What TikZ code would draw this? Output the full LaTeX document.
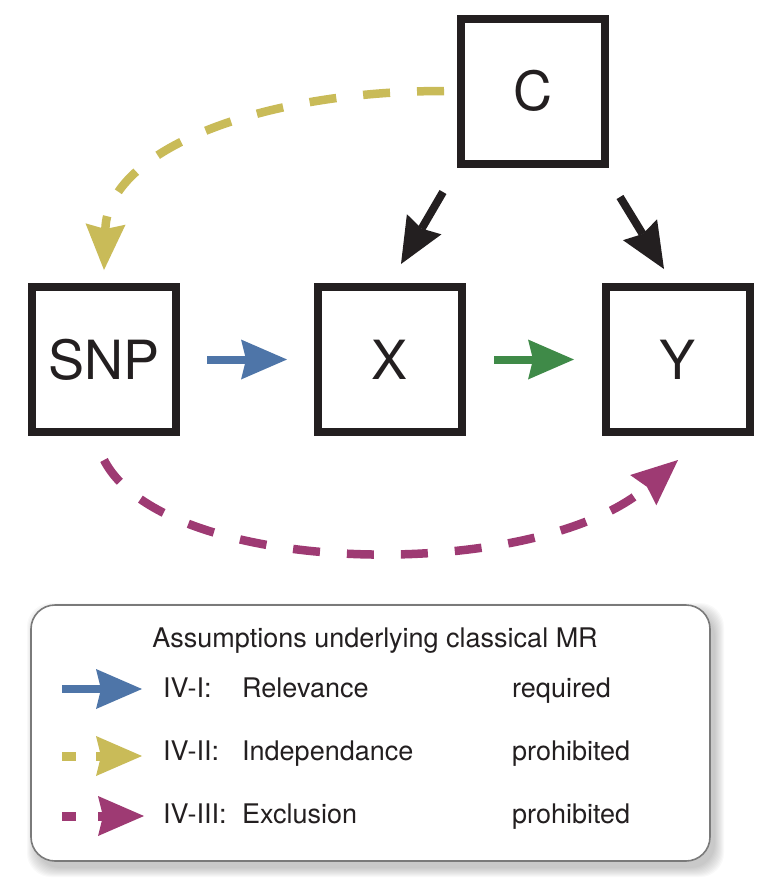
\documentclass[tikz,border=0pt]{standalone}
\usepackage{fontspec}
\setmainfont{TeX Gyre Heros}
\usetikzlibrary{arrows.meta}
\definecolor{boxblack}{HTML}{231F20}
\definecolor{relblue}{HTML}{4E75A8}
\definecolor{effgreen}{HTML}{3F8A48}
\definecolor{indyellow}{HTML}{C9BB58}
\definecolor{excmag}{HTML}{9E3A73}
\definecolor{legborder}{HTML}{7A7A7A}
\begin{document}
\begin{tikzpicture}[x=1pt,y=-1pt,
  varbox/.style={draw=boxblack, line width=8pt, minimum width=144pt, minimum height=145pt,
    inner sep=0pt, text=boxblack, font=\fontsize{54}{60}\selectfont},
  headtip/.style={-{Stealth[length=46pt,width=40pt,inset=5pt,line width=0pt]}},
  solidarrow/.style={headtip, line width=8pt},
  dasharrow/.style={headtip, line width=8.5pt, dash pattern=on 27pt off 27pt},
  legtext/.style={anchor=base west, inner sep=0pt, text=boxblack, font=\fontsize{27}{31}\selectfont},
  legbox/.style={draw=legborder, line width=1.6pt, fill=white, rounded corners=24pt}
]
\useasboundingbox (0,0) rectangle (768,884);

% variable boxes
\node[varbox] (C) at (533,91) {C};
\node[varbox] (SNP) at (104,359.5) {SNP};
\node[varbox] (X) at (390,359.5) {X};
\node[varbox] (Y) at (678,359.5) {Y};

% causal arrows
\draw[solidarrow, relblue, shorten <=27pt, shorten >=27pt] (SNP) -- (X);
\draw[solidarrow, effgreen, shorten <=28pt, shorten >=28pt] (X) -- (Y);

\coordinate (cxs) at (443,192);
\coordinate (cxe) at (401,264);
\coordinate (cys) at (620,197);
\coordinate (cye) at (664,269);
\draw[solidarrow, boxblack] (cxs) -- (cxe);
\draw[solidarrow, boxblack] (cys) -- (cye);

% dashed curved arrows
\draw[dasharrow, indyellow] ([xshift=-13pt]C.west) .. controls (260,91) and (108,150) .. ([yshift=13pt]SNP.north);
\draw[dasharrow, excmag] ([yshift=-24pt]SNP.south) .. controls (165,578) and (535,584) .. ([yshift=-24pt]Y.south);

% legend shadow
\foreach \i in {0,...,9}
  \fill[black, opacity=0.025, rounded corners=24pt] (31+5-\i, 605+7-\i) rectangle (710+5+\i, 861+7+\i);
\draw[legbox] (31,605) rectangle (710,861);

\node[anchor=base, inner sep=0pt, text=boxblack, font=\fontsize{27}{31}\selectfont] (title) at (375,647) {Assumptions underlying classical MR};

% legend rows
\coordinate (l1a) at (62,689);
\coordinate (l1b) at (142,689);
\coordinate (l2a) at (62,756);
\coordinate (l2b) at (142,756);
\coordinate (l3a) at (62,816);
\coordinate (l3b) at (144,816);
\draw[solidarrow, relblue, line width=8.5pt] (l1a) -- (l1b);
\draw[headtip, indyellow, line width=9pt, dash pattern=on 14pt off 20pt] (l2a) -- (l2b);
\draw[headtip, excmag, line width=9pt, dash pattern=on 14pt off 22pt] (l3a) -- (l3b);

\node[legtext] (r1a) at (163,697) {IV-I:};
\node[legtext] (r1b) at (242,697) {Relevance};
\node[legtext] (r1c) at (512,697) {required};
\node[legtext] (r2a) at (163,760) {IV-II:};
\node[legtext] (r2b) at (242,760) {Independance};
\node[legtext] (r2c) at (512,760) {prohibited};
\node[legtext] (r3a) at (163,823) {IV-III:};
\node[legtext] (r3b) at (242,823) {Exclusion};
\node[legtext] (r3c) at (512,823) {prohibited};
\end{tikzpicture}
\end{document}
